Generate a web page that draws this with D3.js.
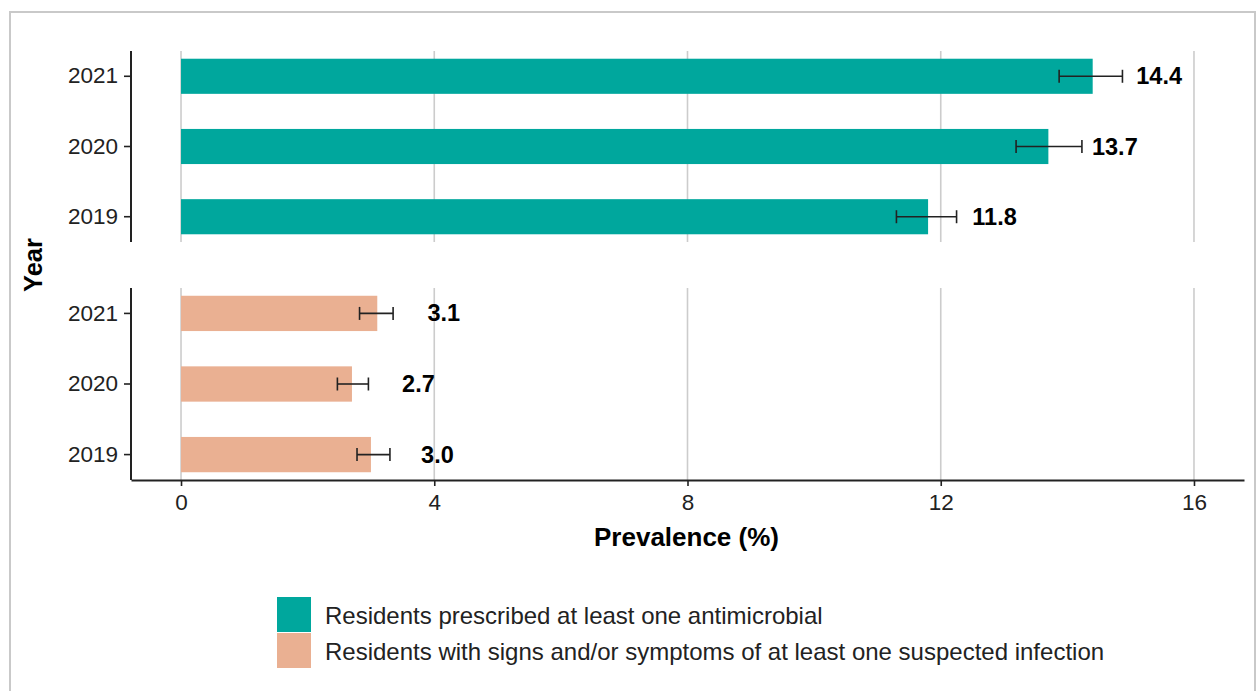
<!DOCTYPE html>
<html>
<head>
<meta charset="utf-8">
<script src="https://cdn.jsdelivr.net/npm/d3@7"></script>
<style>
  html, body { margin: 0; padding: 0; background: #fff; }
  svg { display: block; font-family: "Liberation Sans", Arial, sans-serif; }
</style>
</head>
<body>
<svg id="chart" width="1257" height="691"></svg>
<script>
// Survey years, top to bottom within each panel
const years = ["2021", "2020", "2019"];

// Residents prescribed at least one antimicrobial (%), with 95% CI
const antimicrobial = [14.4, 13.7, 11.8];
const antimicrobialLow = [13.87, 13.19, 11.30];
const antimicrobialHigh = [14.87, 14.23, 12.25];

// Residents with signs/symptoms of at least one suspected infection (%), with 95% CI
const infection = [3.1, 2.7, 3.0];
const infectionLow = [2.82, 2.47, 2.78];
const infectionHigh = [3.35, 2.96, 3.30];

const xTicks = [0, 4, 8, 12, 16];
const seriesNames = [
  "Residents prescribed at least one antimicrobial",
  "Residents with signs and/or symptoms of at least one suspected infection"
];
const colors = ["#00A79D", "#EAB092"];

const svg = d3.select("#chart");

// outer frame
svg.append("rect")
  .attr("x", 10).attr("y", 12).attr("width", 1245).attr("height", 700)
  .attr("fill", "none").attr("stroke", "#c9c9c9").attr("stroke-width", 2);

const plotLeft = 131, plotRight = 1244;
const x = d3.scaleLinear().domain([-0.79, 16.79]).range([plotLeft, plotRight]);

const panels = [
  { top: 51, bottom: 242, values: antimicrobial, low: antimicrobialLow, high: antimicrobialHigh, color: colors[0] },
  { top: 288, bottom: 480, values: infection, low: infectionLow, high: infectionHigh, color: colors[1] }
];

panels.forEach(p => {
  const rows = years.map((yr, i) => ({ year: yr, v: p.values[i], lo: p.low[i], hi: p.high[i] }));
  const y = d3.scaleBand().domain(years).range([p.top, p.bottom])
    .paddingInner(0.5).paddingOuter(0.11);
  const g = svg.append("g");

  // vertical grid
  g.selectAll("line.grid").data(xTicks).join("line")
    .attr("x1", d => x(d)).attr("x2", d => x(d))
    .attr("y1", p.top).attr("y2", p.bottom)
    .attr("stroke", "#cccccc").attr("stroke-width", 1.6);

  // bars
  g.selectAll("rect.bar").data(rows).join("rect")
    .attr("x", x(0)).attr("y", d => y(d.year))
    .attr("width", d => x(d.v) - x(0)).attr("height", y.bandwidth())
    .attr("fill", p.color);

  // error bars
  const eb = g.selectAll("g.err").data(rows).join("g")
    .attr("stroke", "#222").attr("stroke-width", 1.6);
  eb.append("line")
    .attr("x1", d => x(d.lo)).attr("x2", d => x(d.hi))
    .attr("y1", d => y(d.year) + y.bandwidth() / 2).attr("y2", d => y(d.year) + y.bandwidth() / 2);
  eb.append("line")
    .attr("x1", d => x(d.lo)).attr("x2", d => x(d.lo))
    .attr("y1", d => y(d.year) + y.bandwidth() / 2 - 6.5).attr("y2", d => y(d.year) + y.bandwidth() / 2 + 6.5);
  eb.append("line")
    .attr("x1", d => x(d.hi)).attr("x2", d => x(d.hi))
    .attr("y1", d => y(d.year) + y.bandwidth() / 2 - 6.5).attr("y2", d => y(d.year) + y.bandwidth() / 2 + 6.5);

  // value labels
  g.selectAll("text.val").data(rows).join("text")
    .attr("x", d => x(d.v + 1.05)).attr("y", d => y(d.year) + y.bandwidth() / 2)
    .attr("text-anchor", "middle").attr("dominant-baseline", "central")
    .attr("font-size", 23.5).attr("font-weight", "bold").attr("fill", "#000")
    .text(d => d.v.toFixed(1));

  // y axis (band centres)
  const ya = svg.append("g").attr("transform", `translate(${plotLeft},0)`)
    .call(d3.axisLeft(y).tickSize(7).tickPadding(6).tickSizeOuter(0));
  ya.select(".domain").attr("stroke", "#222").attr("stroke-width", 2)
    .attr("d", `M0,${p.top}V${p.bottom}`);
  ya.selectAll(".tick line").attr("stroke", "#222").attr("stroke-width", 1.6);
  ya.selectAll(".tick text").attr("font-size", 22.5).attr("fill", "#222")
    .attr("font-family", "'Liberation Sans', Arial, sans-serif");
});

// x axis
const xa = svg.append("g").attr("transform", `translate(0,480)`)
  .call(d3.axisBottom(x).tickValues(xTicks).tickSize(6).tickPadding(8).tickSizeOuter(0));
xa.select(".domain").attr("stroke", "#222").attr("stroke-width", 2);
xa.selectAll(".tick line").attr("stroke", "#222").attr("stroke-width", 1.6);
xa.selectAll(".tick text").attr("font-size", 22.5).attr("fill", "#222")
  .attr("font-family", "'Liberation Sans', Arial, sans-serif");

// axis titles
svg.append("text")
  .attr("x", (plotLeft + plotRight) / 2 - 1).attr("y", 546)
  .attr("text-anchor", "middle").attr("font-size", 26).attr("font-weight", "bold")
  .text("Prevalence (%)");
svg.append("text")
  .attr("transform", "translate(42,265) rotate(-90)")
  .attr("text-anchor", "middle").attr("font-size", 25.5).attr("font-weight", "bold")
  .text("Year");

// legend
const legend = svg.append("g").attr("transform", "translate(277,597)");
seriesNames.forEach((name, i) => {
  legend.append("rect")
    .attr("x", 0).attr("y", i * 36).attr("width", 34).attr("height", 35)
    .attr("fill", colors[i]);
  legend.append("text")
    .attr("x", 48).attr("y", i * 36 + 18)
    .attr("dominant-baseline", "central")
    .attr("font-size", 24).attr("fill", "#222")
    .text(name);
});
</script>
</body>
</html>
